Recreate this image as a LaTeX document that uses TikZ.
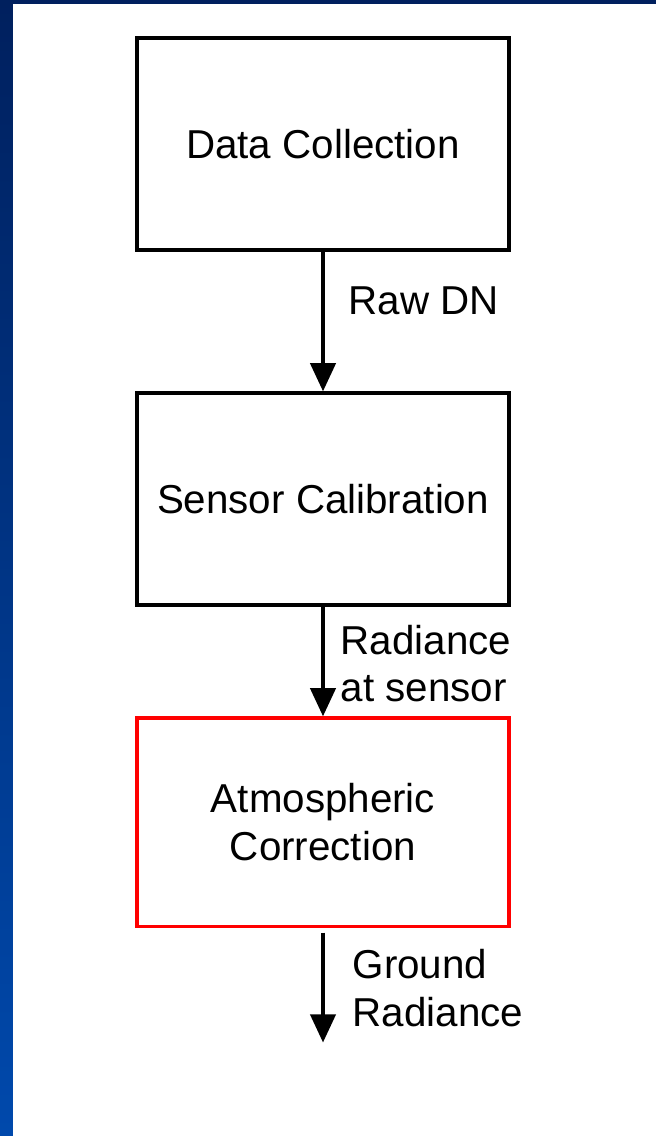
\documentclass[tikz,border=0pt]{standalone}
\usepackage{fontspec}
\setmainfont{Liberation Sans}
\usepackage{tikz}
\usetikzlibrary{arrows.meta, positioning, calc}
\definecolor{slidenavy}{HTML}{00205E}
\definecolor{slideblue}{HTML}{0049AC}
\definecolor{boxred}{HTML}{FF0000}

\begin{document}
\begin{tikzpicture}[
    every node/.style={font=\fontsize{28.7}{34}\selectfont},
    stage/.style={draw, line width=2.4pt, minimum width=9.3cm, minimum height=5.3cm, align=center, inner sep=0pt},
    flow/.style={-{Triangle[width=18pt, length=20pt]}, line width=2.3pt},
    lbl/.style={anchor=west, align=left, inner sep=0pt}
]
    % slide frame
    \useasboundingbox (0,0) rectangle (16.4,-28.4);
    \fill[white] (0,0) rectangle (16.4,-28.4);
    \shade[top color=slidenavy, bottom color=slideblue] (0,0) rectangle (0.325,-28.4);
    \fill[slidenavy] (0,0) rectangle (16.4,-0.1);

    \node[stage] (collect) at (8.075,-3.6) {Data Collection};
    \node[stage, below=3.49cm of collect] (calib) {Sensor Calibration};
    \node[stage, draw=boxred, minimum height=5.22cm, below=2.74cm of calib] (atmos) {Atmospheric\\Correction};
    \coordinate[below=2.85cm of atmos] (out);

    \draw[flow] (collect) -- node[lbl, pos=0.35, xshift=0.6cm] {Raw DN} (calib);
    \draw[flow] (calib) -- node[lbl, pos=0.52, xshift=0.4cm] {Radiance\\at sensor} (atmos);
    \draw[flow, shorten <=3pt] (atmos) -- node[lbl, pos=0.52, xshift=0.7cm] {Ground\\Radiance} (out);
\end{tikzpicture}
\end{document}
